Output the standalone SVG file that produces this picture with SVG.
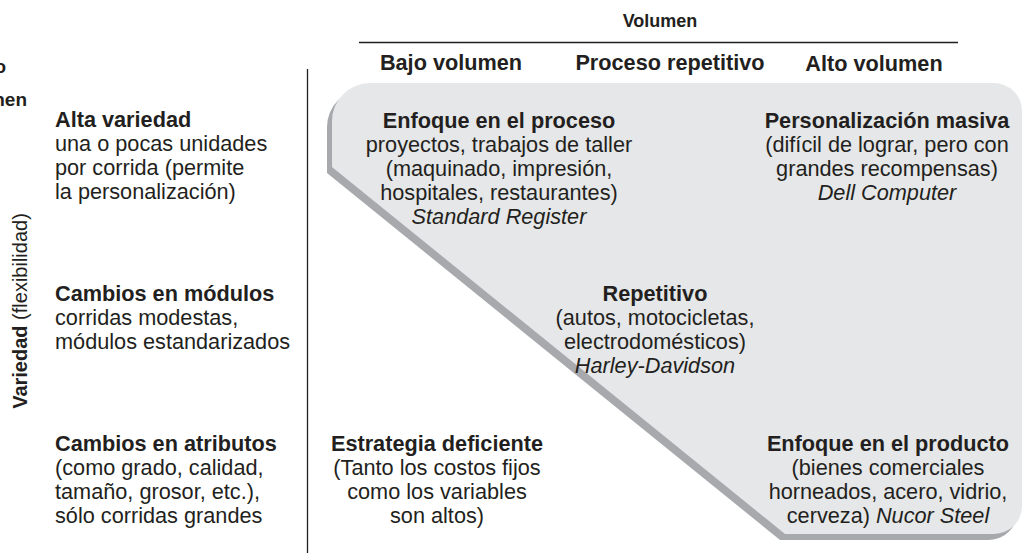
<svg xmlns="http://www.w3.org/2000/svg" width="1024" height="553" viewBox="0 0 1024 553">
<style>
text{font-family:"Liberation Sans",Arial,sans-serif;font-size:21.7px;fill:#231f20}
.b{font-weight:bold}
.i{font-style:italic}
.c{text-anchor:middle}
</style>
<defs>
<path id="shape" d="M332 167 L332 121 A38 38 0 0 1 370 83 L994 83 A28 28 0 0 1 1022 111 L1022 506 A28 28 0 0 1 994 534 L785 534 Z"/>
</defs>
<rect width="1024" height="553" fill="#ffffff"/>
<g id="region">
<use href="#shape" transform="translate(-5,6)" fill="#a7a9ac"/>
<use href="#shape" fill="#e6e7e8"/>
</g>
<g id="connectors">
<line x1="359" y1="42.5" x2="958" y2="42.5" stroke="#231f20" stroke-width="1.3"/>
<line x1="307.5" y1="69" x2="307.5" y2="553" stroke="#231f20" stroke-width="1.3"/>
</g>
<g id="axis-top">
<text class="b c" x="660" y="27" style="font-size:18px">Volumen</text>
<text class="b c" x="451" y="70">Bajo volumen</text>
<text class="b c" x="670" y="70">Proceso repetitivo</text>
<text class="b c" x="874" y="71">Alto volumen</text>
</g>
<g id="clipped">
<text class="b" x="6" y="73" text-anchor="end" style="font-size:19px">o</text>
<text class="b" x="27" y="106" text-anchor="end" style="font-size:19px">nen</text>
</g>
<g id="axis-left">
<text transform="translate(27,311) rotate(-90)" class="c" style="font-size:20px"><tspan class="b">Variedad</tspan> (flexibilidad)</text>
</g>
<g id="alta-variedad">
<text class="b" x="55" y="127">Alta variedad</text>
<text x="55" y="151">una o pocas unidades</text>
<text x="55" y="175">por corrida (permite</text>
<text x="55" y="199">la personalización)</text>
</g>
<g id="cambios-modulos">
<text class="b" x="55" y="301">Cambios en módulos</text>
<text x="55" y="325">corridas modestas,</text>
<text x="55" y="349">módulos estandarizados</text>
</g>
<g id="cambios-atributos">
<text class="b" x="55" y="451">Cambios en atributos</text>
<text x="55" y="475">(como grado, calidad,</text>
<text x="55" y="499">tamaño, grosor, etc.),</text>
<text x="55" y="523">sólo corridas grandes</text>
</g>
<g id="enfoque-proceso">
<text class="b c" x="499" y="128">Enfoque en el proceso</text>
<text class="c" x="499" y="152">proyectos, trabajos de taller</text>
<text class="c" x="499" y="176">(maquinado, impresión,</text>
<text class="c" x="499" y="200">hospitales, restaurantes)</text>
<text class="i c" x="499" y="224">Standard Register</text>
</g>
<g id="personalizacion">
<text class="b c" x="887" y="128">Personalización masiva</text>
<text class="c" x="887" y="152">(difícil de lograr, pero con</text>
<text class="c" x="887" y="176">grandes recompensas)</text>
<text class="i c" x="887" y="200">Dell Computer</text>
</g>
<g id="repetitivo">
<text class="b c" x="655" y="301">Repetitivo</text>
<text class="c" x="655" y="325">(autos, motocicletas,</text>
<text class="c" x="655" y="349">electrodomésticos)</text>
<text class="i c" x="655" y="373">Harley-Davidson</text>
</g>
<g id="estrategia">
<text class="b c" x="437" y="451">Estrategia deficiente</text>
<text class="c" x="437" y="475">(Tanto los costos fijos</text>
<text class="c" x="437" y="499">como los variables</text>
<text class="c" x="437" y="523">son altos)</text>
</g>
<g id="enfoque-producto">
<text class="b c" x="888" y="451">Enfoque en el producto</text>
<text class="c" x="888" y="475">(bienes comerciales</text>
<text class="c" x="888" y="499">horneados, acero, vidrio,</text>
<text class="c" x="888" y="523">cerveza)  <tspan class="i">Nucor Steel</tspan></text>
</g>
</svg>
